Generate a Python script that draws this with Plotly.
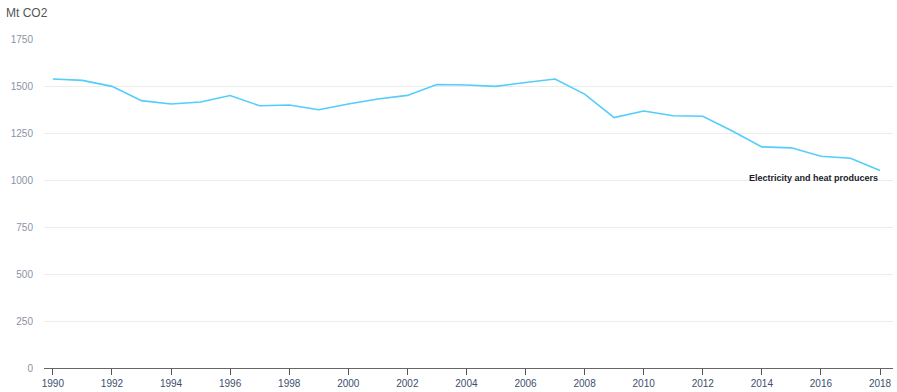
import plotly.graph_objects as go

years = list(range(1990, 2019))
emissions = [1537, 1530, 1498, 1422, 1404, 1415, 1449, 1395, 1399, 1374,
             1404, 1431, 1450, 1508, 1505, 1498, 1519, 1537, 1457, 1332,
             1367, 1342, 1339, 1261, 1176, 1171, 1126, 1116, 1051]
series_name = "Electricity and heat producers"
y_ticks = [0, 250, 500, 750, 1000, 1250, 1500, 1750]
x_ticks = list(range(1990, 2019, 2))

fig = go.Figure()
fig.add_trace(go.Scatter(x=years, y=emissions, mode="lines",
                         line=dict(color="#52cdfc", width=1.6),
                         name=series_name, showlegend=False, hoverinfo="x+y"))

fig.add_annotation(x=years[-1], y=1000, text="<b>" + series_name + "</b>", showarrow=False,
                   xanchor="right", yanchor="middle", yshift=2,
                   font=dict(family="Liberation Sans, Arial, sans-serif", size=9, color="#1a1a2a"))

fig.update_layout(
    width=897, height=392,
    margin=dict(l=44, r=4, t=39, b=24),
    paper_bgcolor="white", plot_bgcolor="white",
    font=dict(family="Liberation Sans, Arial, sans-serif"),
    xaxis=dict(range=[1989.7, 2018.44], tickvals=x_ticks, ticktext=[str(t) for t in x_ticks],
               showgrid=False, zeroline=False, showline=True, linecolor="#666666", linewidth=1,
               ticks="outside", ticklen=6, tickcolor="#555555", tickwidth=1,
               tickfont=dict(size=10, color="#3d4f6e")),
    yaxis=dict(range=[0, 1750], tickvals=y_ticks, showgrid=True, gridcolor="#ececec", gridwidth=1,
               zeroline=False, showline=False, ticks="", ticklabelstandoff=10,
               tickfont=dict(size=10, color="#8a93a6")),
)

fig.add_annotation(xref="paper", yref="paper", x=-40/849, y=1 + 26/329, xanchor="left", yanchor="middle",
                   text="Mt CO2", showarrow=False,
                   font=dict(family="Liberation Sans, Arial, sans-serif", size=12, color="#555555"))

fig.write_html("out.html")
